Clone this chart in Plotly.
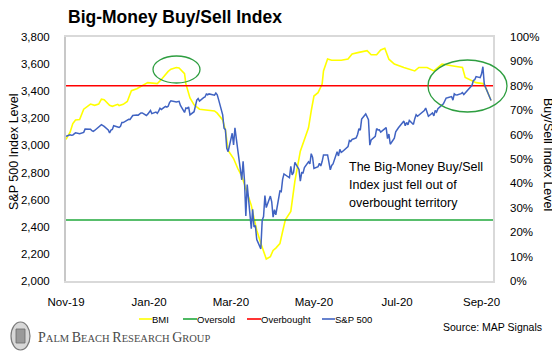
import pandas as pd
import plotly.graph_objects as go

# ---------------- data ----------------
title_text = "Big-Money Buy/Sell Index"
note_lines = ["The Big-Money Buy/Sell", "Index just fell out of", "overbought territory"]
source_text = "Source: MAP Signals"

# S&P 500 daily closes (Nov 1 2019 - Sep 8 2020)
sp_nov19 = [3066.9, 3078.3, 3074.6, 3076.8, 3085.2, 3093.1, 3087.0, 3091.8, 3094.0, 3096.6,
            3120.5, 3122.0, 3120.2, 3108.5, 3103.5, 3110.3, 3133.6, 3140.5, 3153.6, 3141.0]
sp_dec19 = [3113.9, 3093.2, 3112.8, 3117.4, 3145.9, 3136.0, 3132.5, 3141.6, 3168.6, 3168.8,
            3191.5, 3192.5, 3191.1, 3205.4, 3221.2, 3224.0, 3223.4, 3239.9, 3240.0, 3221.3, 3230.8]
sp_jan20 = [3257.9, 3234.9, 3246.3, 3237.2, 3253.1, 3274.7, 3265.4, 3288.1, 3283.2, 3289.3,
            3316.8, 3329.6, 3320.8, 3321.8, 3325.5, 3295.5, 3243.6, 3276.2, 3273.4, 3283.7, 3225.5]
sp_feb20 = [3248.9, 3297.6, 3334.7, 3345.8, 3327.7, 3352.1, 3357.8, 3379.5, 3373.9, 3380.2,
            3370.3, 3386.2, 3373.2, 3337.8, 3225.9, 3128.2, 3116.4, 2978.8, 2954.2]
sp_mar20 = [3090.2, 3003.4, 3130.1, 3023.9, 2972.4, 2746.6, 2882.2, 2741.4, 2480.6, 2711.0,
            2386.1, 2529.2, 2398.1, 2409.4, 2304.9, 2237.4, 2447.3, 2475.6, 2630.1, 2541.5,
            2626.7, 2584.6]
sp_apr20 = [2470.5, 2526.9, 2488.7, 2663.7, 2659.4, 2750.0, 2789.8, 2761.6, 2846.1, 2783.4,
            2799.6, 2874.6, 2823.2, 2736.6, 2799.3, 2797.8, 2836.7, 2878.5, 2863.4, 2939.5, 2912.4]
sp_may20 = [2830.7, 2842.7, 2868.4, 2848.4, 2881.2, 2929.8, 2930.3, 2870.1, 2820.0, 2852.5,
            2863.7, 2953.9, 2922.9, 2971.6, 2948.5, 2955.5, 2991.8, 3036.1, 3029.7, 3044.3]
sp_jun20 = [3055.7, 3080.8, 3122.9, 3112.4, 3193.9, 3232.4, 3207.2, 3190.1, 3002.1, 3041.3,
            3066.6, 3124.7, 3113.5, 3115.3, 3097.7, 3117.9, 3131.3, 3050.3, 3083.8, 3009.1,
            3053.2, 3100.3]
sp_jul20 = [3115.9, 3130.0, 3179.7, 3145.3, 3169.9, 3152.1, 3185.0, 3155.2, 3197.5, 3226.6,
            3215.6, 3224.7, 3251.8, 3257.3, 3276.0, 3235.7, 3215.6, 3239.4, 3218.4, 3258.4,
            3246.2, 3271.1]
sp_aug20 = [3294.6, 3306.5, 3327.8, 3349.2, 3351.3, 3360.5, 3333.7, 3380.4, 3373.4, 3372.9,
            3382.0, 3389.8, 3374.9, 3385.5, 3397.2, 3431.3, 3443.6, 3478.7, 3484.6, 3508.0, 3500.3]
sp_sep20 = [3526.7, 3580.8, 3455.1, 3427.0, 3331.8]

market_holidays = ["2019-11-28", "2019-12-25", "2020-01-01", "2020-01-20", "2020-02-17",
                   "2020-04-10", "2020-05-25", "2020-07-03", "2020-09-07"]

# Big-Money Index (percent)
bmi_dates = ["2019-11-01", "2019-11-04", "2019-11-06", "2019-11-08", "2019-11-11", "2019-11-14",
             "2019-11-19", "2019-11-22", "2019-11-25", "2019-11-27", "2019-11-29", "2019-12-03",
             "2019-12-05", "2019-12-09", "2019-12-10", "2019-12-13", "2019-12-16", "2019-12-19",
             "2019-12-23", "2019-12-27", "2019-12-31", "2020-01-07", "2020-01-10", "2020-01-15",
             "2020-01-17", "2020-01-21", "2020-01-23", "2020-01-27", "2020-01-28", "2020-01-31",
             "2020-02-03", "2020-02-07", "2020-02-12", "2020-02-18", "2020-02-20", "2020-02-24",
             "2020-02-26", "2020-02-28", "2020-03-03", "2020-03-06", "2020-03-09", "2020-03-12",
             "2020-03-16", "2020-03-18", "2020-03-20", "2020-03-23", "2020-03-27", "2020-03-30",
             "2020-04-01", "2020-04-03", "2020-04-06", "2020-04-08", "2020-04-10", "2020-04-14",
             "2020-04-17", "2020-04-21", "2020-04-27", "2020-04-29", "2020-05-01", "2020-05-04",
             "2020-05-07", "2020-05-08", "2020-05-11", "2020-05-14", "2020-05-21", "2020-05-26",
             "2020-05-29", "2020-06-03", "2020-06-09", "2020-06-12", "2020-06-16", "2020-06-19",
             "2020-06-22", "2020-06-25", "2020-06-29", "2020-07-06", "2020-07-14", "2020-07-17",
             "2020-07-23", "2020-07-28", "2020-08-03", "2020-08-10", "2020-08-18", "2020-08-20",
             "2020-08-25", "2020-08-28", "2020-09-02", "2020-09-04", "2020-09-08"]
bmi_values = [58.0, 61.0, 64.5, 66.0, 66.2, 70.4,
              72.5, 72.0, 72.5, 74.5, 74.3, 72.0,
              71.6, 72.4, 71.9, 72.4, 73.6, 78.0,
              78.8, 80.0, 81.3, 80.9, 82.6, 85.9,
              86.8, 87.5, 87.3, 85.0, 80.8, 75.0,
              72.2, 70.4, 70.0, 69.7, 68.8, 66.0,
              61.8, 53.5, 50.2, 46.2, 43.0, 37.5,
              31.0, 25.8, 20.8, 15.5, 9.0, 10.0,
              12.5, 13.5, 15.3, 20.3, 25.1, 28.5,
              40.9, 53.2, 62.8, 69.7, 75.8, 77.2,
              80.7, 86.1, 91.0, 90.5, 90.5, 91.0,
              93.0, 93.7, 94.4, 92.7, 92.7, 94.7,
              95.4, 90.9, 88.9, 87.5, 86.1, 87.5,
              87.5, 86.1, 88.9, 88.2, 87.5, 83.4,
              82.0, 81.3, 80.9, 79.3, 74.0]

overbought_level = 80
oversold_level = 25

series_names = ["BMI", "Oversold", "Overbought", "S&P 500"]
series_colors = ["#ffff00", "#21a83b", "#ff0000", "#4063c2"]

x_start, x_end = "2019-11-01", "2020-09-09 10:00"
sp_range = [2000, 3800]
pct_range = [0, 100]

# ---------------- build ----------------
sp_values = (sp_nov19 + sp_dec19 + sp_jan20 + sp_feb20 + sp_mar20 + sp_apr20 + sp_may20
             + sp_jun20 + sp_jul20 + sp_aug20 + sp_sep20)
sp_dates = pd.bdate_range("2019-11-01", "2020-09-08", freq="C", holidays=market_holidays)
assert len(sp_dates) == len(sp_values), (len(sp_dates), len(sp_values))

FONT = "Liberation Sans, Arial, sans-serif"
OFF = 8  # page body margin offset of the rendered figure
W, H = 560 - OFF, 361 - OFF
PLOT_L, PLOT_R, PLOT_T, PLOT_B = 66, 493, 37, 281  # target pixel box in the window
ML, MT = PLOT_L - OFF, PLOT_T - OFF
MR, MB = W - (PLOT_R - OFF), H - (PLOT_B - OFF)
PW, PH = W - ML - MR, H - MT - MB


def px(x):
    return (x - OFF - ML) / PW


def py(y):
    return (H - MB - (y - OFF)) / PH


fig = go.Figure()
fig.add_trace(go.Scatter(x=pd.to_datetime(bmi_dates), y=bmi_values, mode="lines",
                         name=series_names[0], line=dict(color=series_colors[0], width=1.6),
                         yaxis="y"))
fig.add_trace(go.Scatter(x=[x_start, x_end], y=[oversold_level, oversold_level], mode="lines",
                         name=series_names[1], line=dict(color=series_colors[1], width=1.6),
                         yaxis="y"))
fig.add_trace(go.Scatter(x=[x_start, x_end], y=[overbought_level, overbought_level], mode="lines",
                         name=series_names[2], line=dict(color=series_colors[2], width=1.6),
                         yaxis="y"))
fig.add_trace(go.Scatter(x=sp_dates, y=sp_values, mode="lines",
                         name=series_names[3], line=dict(color=series_colors[3], width=1.5),
                         yaxis="y2"))

axis_font = dict(family=FONT, size=11.5, color="#000000")

fig.update_layout(
    width=W, height=H,
    margin=dict(l=ML, r=MR, t=MT, b=MB, pad=0),
    paper_bgcolor="white", plot_bgcolor="white",
    showlegend=False,
    xaxis=dict(range=[x_start, x_end], type="date", tick0="2019-11-01", dtick="M2",
               tickformat="%b-%y", showgrid=False, zeroline=False, showline=True,
               linecolor="#d9d9d9", linewidth=1.5, mirror=True, ticks="", automargin=False,
               tickfont=dict(family=FONT, size=11.5, color="#000"), ticklabelstandoff=9),
    yaxis=dict(range=pct_range, dtick=10, ticksuffix="%", side="right", showgrid=False,
               zeroline=False, showline=True, linecolor="#d9d9d9", linewidth=1.5, mirror=True,
               ticks="", tickfont=axis_font, ticklabelstandoff=13, automargin=False),
    yaxis2=dict(range=sp_range, dtick=200, tickformat=",", side="left", overlaying="y",
                showgrid=False, zeroline=False, showline=True, linecolor="#c8c8c8", linewidth=2,
                ticks="", tickfont=axis_font, ticklabelstandoff=12, automargin=False),
)

annotations = [
    dict(text="<b>" + title_text + "</b>", x=px(66), y=py(17), xref="paper", yref="paper",
         xanchor="left", yanchor="middle", showarrow=False,
         font=dict(family=FONT, size=17.5, color="#000")),
    dict(text="S&P 500 Index Level", x=px(14), y=py(152), xref="paper", yref="paper",
         textangle=-90, xanchor="center", yanchor="middle", showarrow=False,
         font=dict(family=FONT, size=12.5, color="#000")),
    dict(text="Buy/Sell Index Level", x=px(548), y=py(154), xref="paper", yref="paper",
         textangle=90, xanchor="center", yanchor="middle", showarrow=False,
         font=dict(family=FONT, size=12.5, color="#000")),
    dict(text=source_text, x=px(544), y=py(327), xref="paper", yref="paper",
         xanchor="right", yanchor="middle", showarrow=False,
         font=dict(family=FONT, size=10.5, color="#000")),
]
for i, line in enumerate(note_lines):
    annotations.append(dict(text=line, x=px(347), y=py(167 + 18 * i), xref="paper",
                            yref="paper", xanchor="left", yanchor="middle", showarrow=False,
                            font=dict(family=FONT, size=12.5, color="#000")))

big, small = 14, 10.5
logo = ("<span style='font-size:%spx'>P</span><span style='font-size:%spx'>ALM</span> "
        "<span style='font-size:%spx'>B</span><span style='font-size:%spx'>EACH</span> "
        "<span style='font-size:%spx'>R</span><span style='font-size:%spx'>ESEARCH</span> "
        "<span style='font-size:%spx'>G</span><span style='font-size:%spx'>ROUP</span>") % (
    big, small, big, small, big, small, big, small)
annotations.append(dict(text=logo, x=px(36), y=py(337), xref="paper", yref="paper",
                        xanchor="left", yanchor="middle", showarrow=False,
                        font=dict(family="Liberation Serif, DejaVu Serif, serif", size=small,
                                  color="#4a4a4a")))

# manual legend
legend_items = [(139, 152), (183, 197), (247, 261), (322, 335)]
shapes = []
for (x0, x1), name, color in zip(legend_items, series_names, series_colors):
    shapes.append(dict(type="line", xref="paper", yref="paper", x0=px(x0), x1=px(x1),
                       y0=py(319), y1=py(319), line=dict(color=color, width=1.6)))
    annotations.append(dict(text=name, x=px(x1) - 0.004, y=py(319), xref="paper", yref="paper",
                            xanchor="left", yanchor="middle", showarrow=False,
                            font=dict(family=FONT, size=9.5, color="#000")))

# highlight ellipses
shapes.append(dict(type="circle", xref="paper", yref="paper", x0=px(153), x1=px(200),
                   y0=py(83), y1=py(56), line=dict(color="#2e9e40", width=1.3)))
shapes.append(dict(type="circle", xref="paper", yref="paper", x0=px(428), x1=px(507),
                   y0=py(112), y1=py(60), line=dict(color="#2e9e40", width=1.3)))

# logo emblem
shapes.append(dict(type="circle", xref="paper", yref="paper", x0=px(11), x1=px(30),
                   y0=py(350), y1=py(322), fillcolor="#d8d8d8",
                   line=dict(color="#7a7a7a", width=1.2)))
shapes.append(dict(type="rect", xref="paper", yref="paper", x0=px(16), x1=px(25),
                   y0=py(343), y1=py(329), fillcolor="#9a9a9a",
                   line=dict(color="#6a6a6a", width=0.8)))

fig.update_layout(annotations=annotations, shapes=shapes)

fig.write_html("out.html")
